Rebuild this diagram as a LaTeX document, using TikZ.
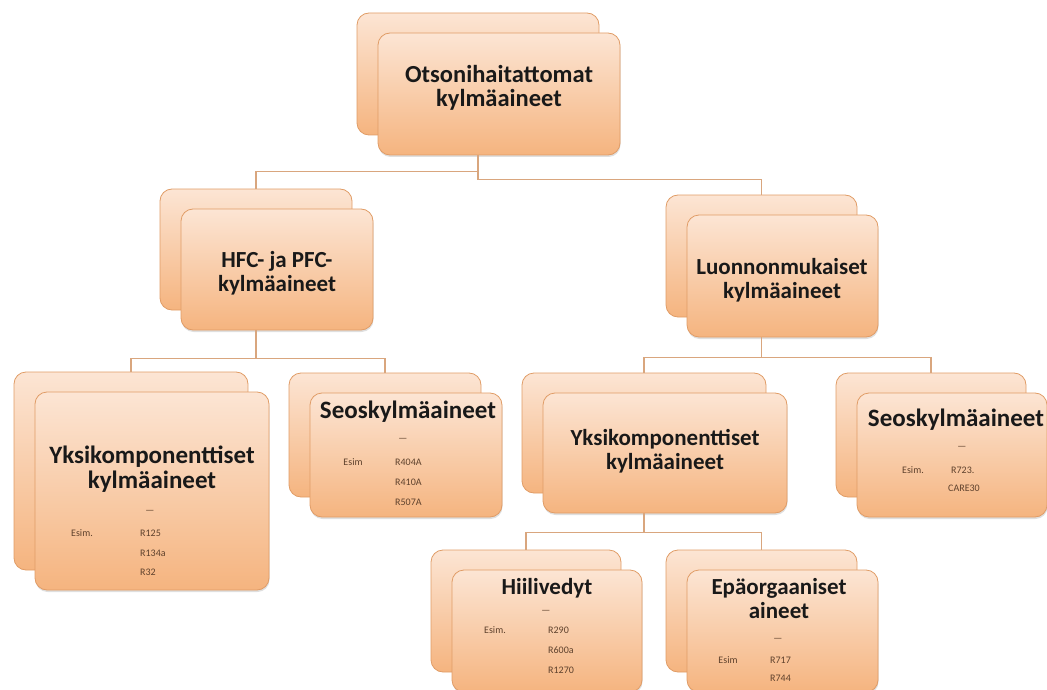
\documentclass[tikz,border=0pt]{standalone}
\usepackage{fontspec}
\setmainfont{Carlito}
\usetikzlibrary{shadows}
\definecolor{boxtop}{HTML}{FCE5D4}
\definecolor{boxbot}{HTML}{F5B47F}
\definecolor{boxline}{HTML}{E09C66}
\definecolor{connline}{HTML}{D9A67E}
\definecolor{detail}{HTML}{5E412C}
\tikzset{
  box/.style={rectangle, rounded corners=12pt, draw=boxline, line width=0.8pt,
    top color=boxtop, bottom color=boxbot, inner sep=0pt},
  frontbox/.style={box, drop shadow={shadow xshift=0.5pt, shadow yshift=-2pt, opacity=0.25}},
  conn/.style={draw=connline, line width=1.4pt},
  title/.style={font=\bfseries\fontsize{23}{24}\selectfont, align=center, text=black!90},
  small/.style={font=\fontsize{10}{11}\selectfont, text=detail, inner sep=0pt},
}

\begin{document}
\begin{tikzpicture}[x=1pt, y=-1pt]
\useasboundingbox (0,0) rectangle (1047,690);
\clip (0,0) rectangle (1047,690);

% boxes: centre, width, height of the front box; the back copy sits up left
\foreach \n/\x/\y/\w/\h in {root/499/94/242/122, hfc/277/269.5/192/121,
    luo/782.5/276/191/122, yksiA/152/491/234/198, seosA/406/455/192/124,
    yksiB/665/453/244/120, seosB/952/455/190/124, hiili/547/631/190/122,
    epa/782.5/631/191/122}{
  \node[box, minimum width=\w pt, minimum height=\h pt] (b\n) at (\x-21,\y-20) {};
  \node[frontbox, minimum width=\w pt, minimum height=\h pt] (\n) at (\x,\y) {};
}

% connectors
\draw[conn] (root.south -| broot.south) -- ++(0,16) -| (bhfc.north);
\draw[conn] (root.south -| broot.south) -- ++(0,24) -| (bluo.north);
\draw[conn] (hfc.south -| bhfc.south) -- ++(0,28) -| (byksiA.north);
\draw[conn] (hfc.south -| bhfc.south) -- ++(0,28) -| (bseosA.north);
\draw[conn] (luo.south -| bluo.south) -- ++(0,20) -| (byksiB.north);
\draw[conn] (luo.south -| bluo.south) -- ++(0,20) -| (bseosB.north);
\draw[conn] (yksiB.south -| byksiB.south) -- ++(0,19) -| (bhiili.north);
\draw[conn] (yksiB.south -| byksiB.south) -- ++(0,19) -| (bepa.north);

% titles
\node[title, font=\bfseries\fontsize{24.5}{24}\selectfont] (rootT) at (499,88) {Otsonihaitattomat\\kylmäaineet};
\node[title] (hfcT) at (277,273) {HFC- ja PFC-\\kylmäaineet};
\node[title] (luoT) at (782,280) {Luonnonmukaiset\\kylmäaineet};
\node[title, font=\bfseries\fontsize{25}{25}\selectfont] (yksiAT) at (152,469) {Yksikomponenttiset\\kylmäaineet};
\node[title, font=\bfseries\fontsize{25}{24}\selectfont] (seosAT) at (408,412) {Seoskylmäaineet};
\node[title] (yksiBT) at (665,451) {Yksikomponenttiset\\kylmäaineet};
\node[title, font=\bfseries\fontsize{25}{24}\selectfont] (seosBT) at (956,420) {Seoskylmäaineet};
\node[title] (hiiliT) at (547,588) {Hiilivedyt};
\node[title] (epaT) at (779,599) {Epäorgaaniset\\aineet};

% examples
\node[small] (yksiAD) at (150,512) {—};
\node[small] (yksiAE) at (82,533) {Esim.};
\node[small, anchor=west] (yksiA1) at (140,533) {R125};
\node[small, anchor=west] (yksiA2) at (140,553) {R134a};
\node[small, anchor=west] (yksiA3) at (140,572) {R32};

\node[small] (seosAD) at (403,440) {—};
\node[small] (seosAE) at (353,462) {Esim};
\node[small, anchor=west] (seosA1) at (395,462) {R404A};
\node[small, anchor=west] (seosA2) at (395,482) {R410A};
\node[small, anchor=west] (seosA3) at (395,502) {R507A};

\node[small] (seosBD) at (962,448) {—};
\node[small] (seosBE) at (913,470) {Esim.};
\node[small, anchor=west] (seosB1) at (951,470) {R723.};
\node[small, anchor=west] (seosB2) at (948,488) {CARE30};

\node[small] (hiiliD) at (546,612) {—};
\node[small] (hiiliE) at (495,630) {Esim.};
\node[small, anchor=west] (hiili1) at (548,630) {R290};
\node[small, anchor=west] (hiili2) at (548,650) {R600a};
\node[small, anchor=west] (hiili3) at (548,670) {R1270};

\node[small] (epaD) at (778,640) {—};
\node[small] (epaE) at (728,660) {Esim};
\node[small, anchor=west] (epa1) at (770,660) {R717};
\node[small, anchor=west] (epa2) at (770,678) {R744};
\end{tikzpicture}
\end{document}
